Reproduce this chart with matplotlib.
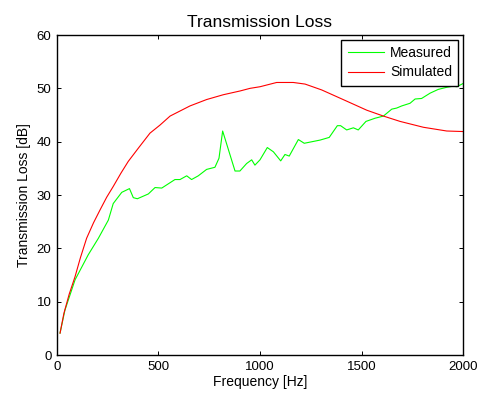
import matplotlib
matplotlib.use("Agg")
import matplotlib.pyplot as plt

plt.rcParams["font.family"] = ["Liberation Sans", "DejaVu Sans"]

# Measured transmission loss (frequency in Hz, TL in dB)
meas_freq = [15, 39, 89, 154, 204, 253, 277, 319, 357, 376, 396, 450, 483, 516,
             581, 606, 639, 663, 696, 737, 778, 798, 816, 877, 901, 934, 959,
             975, 1000, 1036, 1066, 1102, 1123, 1144, 1189, 1218, 1296, 1341,
             1381, 1397, 1427, 1460, 1484, 1522, 1567, 1608, 1649, 1673, 1698,
             1739, 1764, 1796, 1838, 1878, 1920, 1952, 1970, 2000]
meas_tl = [4.1, 8.4, 14.1, 18.8, 21.9, 25.3, 28.4, 30.5, 31.2, 29.5, 29.3,
           30.2, 31.4, 31.3, 32.9, 32.9, 33.6, 32.9, 33.6, 34.8, 35.2, 36.9,
           42.0, 34.5, 34.5, 35.9, 36.6, 35.6, 36.6, 38.9, 38.1, 36.4, 37.6,
           37.3, 40.4, 39.7, 40.3, 40.8, 43.0, 43.0, 42.2, 42.6, 42.2, 43.8,
           44.4, 44.8, 46.1, 46.3, 46.7, 47.2, 48.0, 48.1, 49.1, 49.8, 50.2,
           50.4, 50.3, 50.9]

# Simulated transmission loss
sim_freq = [15, 34, 60, 89, 115, 146, 180, 212, 245, 277, 315, 351, 401, 458,
            507, 557, 655, 737, 819, 901, 951, 1000, 1082, 1164, 1222, 1304,
            1427, 1526, 1608, 1690, 1805, 1920, 2000]
sim_tl = [4.1, 7.8, 11.4, 14.7, 18.2, 21.9, 24.8, 27.2, 29.6, 31.6, 34.1,
          36.3, 38.8, 41.6, 43.1, 44.8, 46.7, 47.9, 48.8, 49.5, 50.0, 50.3,
          51.1, 51.1, 50.8, 49.7, 47.6, 45.9, 44.8, 43.8, 42.7, 42.0, 41.9]

fig = plt.figure(figsize=(4.83, 3.96), dpi=100)
ax = fig.add_axes([0.118, 0.1035, 0.8406, 0.8081])

ax.plot(meas_freq, meas_tl, color=(0, 1, 0), lw=0.8, label="Measured")
ax.plot(sim_freq, sim_tl, color=(1, 0, 0), lw=0.8, label="Simulated")

ax.set_xlim(0, 2000)
ax.set_ylim(0, 60)
ax.set_xticks([0, 500, 1000, 1500, 2000])
ax.set_yticks(range(0, 61, 10))
ax.tick_params(direction="in", top=True, right=True, length=3, width=0.7,
               labelsize=9.5, pad=4)
for sp in ax.spines.values():
    sp.set_linewidth(1.0)

ax.set_xlabel("Frequency [Hz]", fontsize=10, labelpad=2)
ax.set_ylabel("Transmission Loss [dB]", fontsize=10, labelpad=4)
ax.set_title("Transmission Loss", fontsize=12.5, pad=6)

leg = ax.legend(loc="upper right", fontsize=10, fancybox=False, framealpha=1,
                edgecolor="black", handlelength=2.65, handletextpad=0.4,
                borderaxespad=0.35, borderpad=0.45, labelspacing=0.38)
leg.get_frame().set_linewidth(1.0)

fig.savefig("out.png", dpi=100)
